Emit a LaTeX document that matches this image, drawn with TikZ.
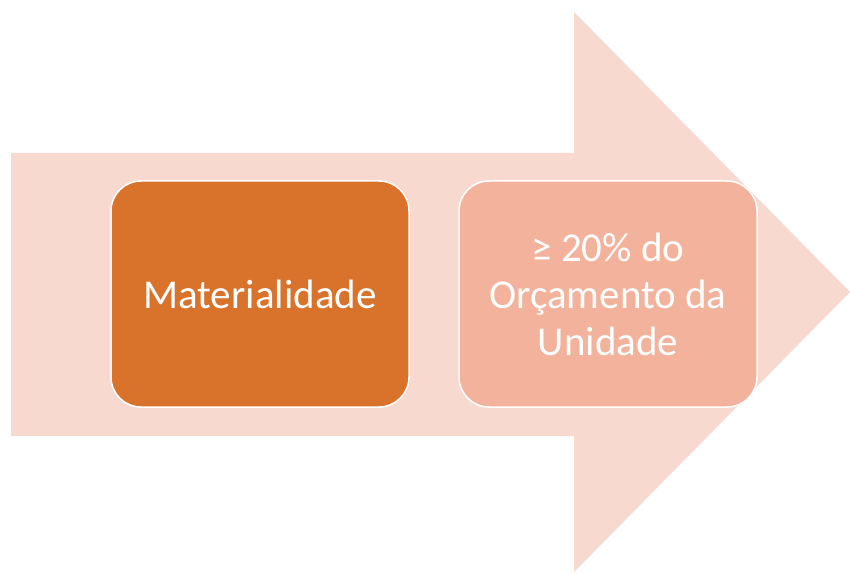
\documentclass[tikz,border=0pt]{standalone}
\usepackage{fontspec}
\setmainfont{Carlito}
\definecolor{arrowfill}{HTML}{F8D9CF}
\definecolor{boxa}{HTML}{D9722B}
\definecolor{boxb}{HTML}{F2B29B}
\begin{document}
\begin{tikzpicture}[x=1pt,y=1pt,
  box/.style={draw=white,line width=1.5pt,rounded corners=30pt,minimum width=298pt,minimum height=226pt,
    text=white,align=center,font=\fontsize{41}{47}\selectfont,inner sep=0pt}]
\useasboundingbox (0,0) rectangle (850,573);
\fill[arrowfill] (11,420) -- (574,420) -- (574,561) -- (850,281) -- (574,1) -- (574,137) -- (11,137) -- cycle;
\node[box,fill=boxa] (a) at (260,279) {Materialidade};
\node[box,fill=boxb] (b) at (608,279) {≥ 20\% do\\Orçamento da\\Unidade};
\end{tikzpicture}
\end{document}
